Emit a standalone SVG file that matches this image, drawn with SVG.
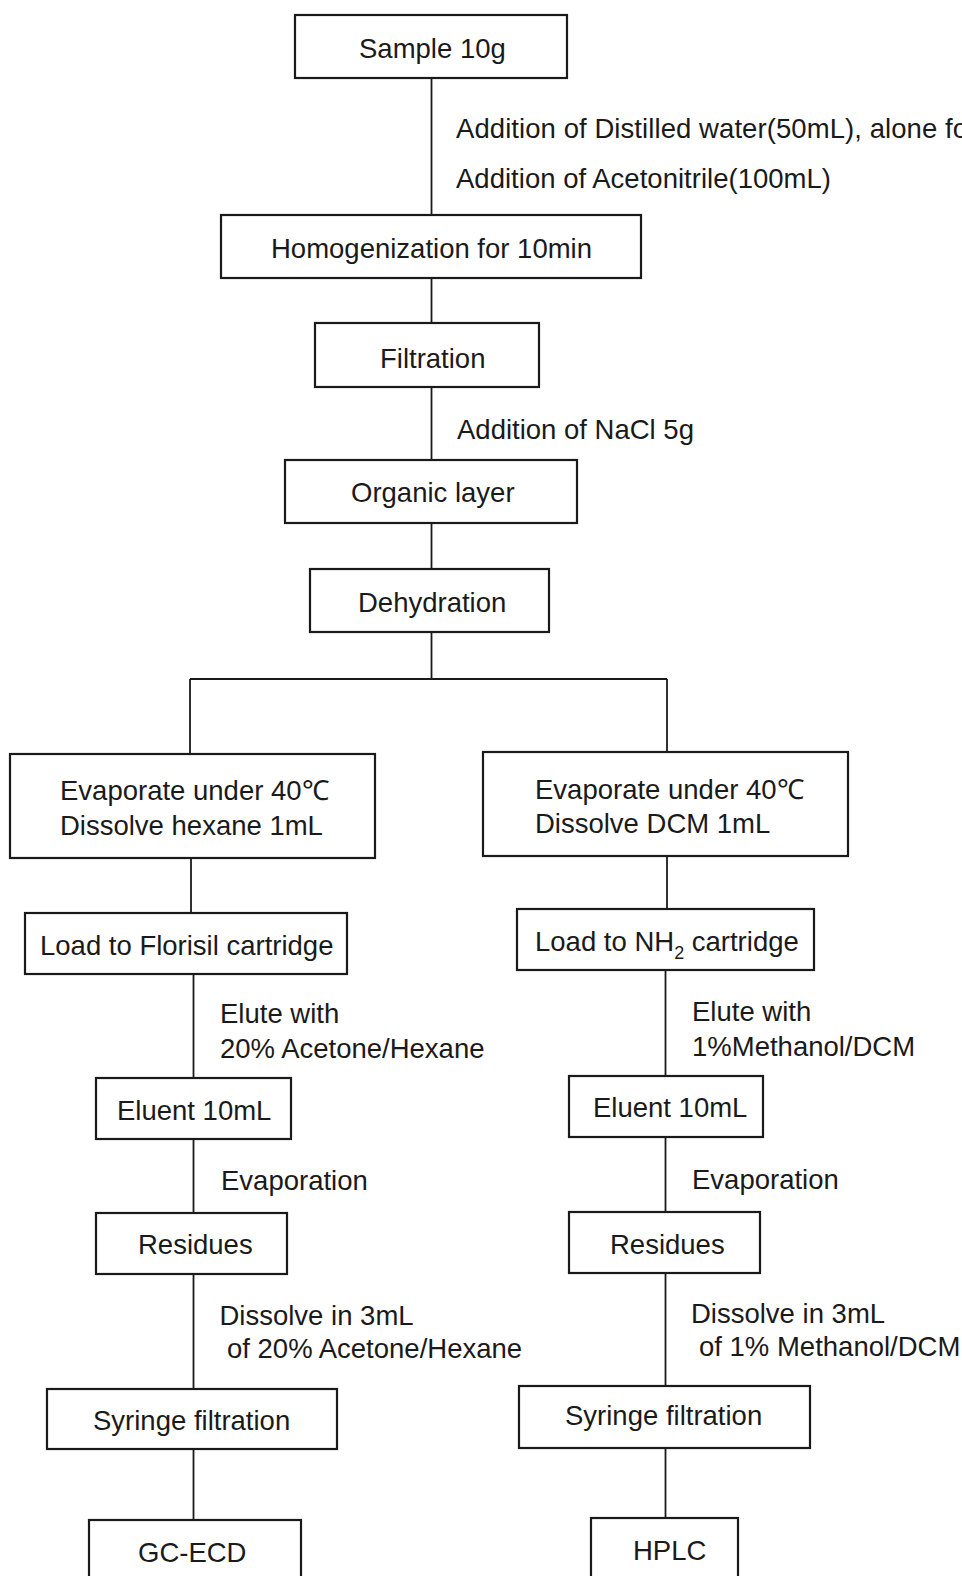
<svg xmlns="http://www.w3.org/2000/svg" width="962" height="1576" viewBox="0 0 962 1576">
<style>
.box{fill:#fff;stroke:#1a1a1a;stroke-width:2.2}
.ln{fill:none;stroke:#1a1a1a;stroke-width:1.8}
text{font-family:"Liberation Sans",Arial,sans-serif;font-size:27.5px;fill:#1a1a1a}
</style>
<rect width="962" height="1576" fill="#fff"/>
<g id="connectors">
<path class="ln" d="M431.5 78V215"/>
<path class="ln" d="M431.5 278V323"/>
<path class="ln" d="M431.5 387V460"/>
<path class="ln" d="M431.5 523V569"/>
<path class="ln" d="M431.5 632V679"/>
<path class="ln" d="M190 679H667"/>
<path class="ln" d="M190 679V754"/>
<path class="ln" d="M667 679V752"/>
<path class="ln" d="M191 858V913"/>
<path class="ln" d="M667 856V909"/>
<path class="ln" d="M193.5 974V1078"/>
<path class="ln" d="M665.5 970V1076"/>
<path class="ln" d="M193.5 1139V1213"/>
<path class="ln" d="M665.5 1137V1212"/>
<path class="ln" d="M193.5 1274V1389"/>
<path class="ln" d="M665.5 1273V1386"/>
<path class="ln" d="M193.5 1449V1520"/>
<path class="ln" d="M665.5 1448V1518"/>
<text x="456" y="138" textLength="512" lengthAdjust="spacing">Addition of Distilled water(50mL), alone fo</text>
<text x="456" y="188" textLength="375" lengthAdjust="spacing">Addition of Acetonitrile(100mL)</text>
<text x="457" y="439">Addition of NaCl 5g</text>
<text x="220" y="1023">Elute with</text>
<text x="220" y="1058">20% Acetone/Hexane</text>
<text x="692" y="1021">Elute with</text>
<text x="692" y="1056">1%Methanol/DCM</text>
<text x="221" y="1190">Evaporation</text>
<text x="692" y="1189">Evaporation</text>
<text x="219.5" y="1325">Dissolve in 3mL</text>
<text x="227" y="1358">of 20% Acetone/Hexane</text>
<text x="691" y="1323">Dissolve in 3mL</text>
<text x="699" y="1356">of 1% Methanol/DCM</text>
</g>
<g id="sample"><rect class="box" x="295" y="15" width="272" height="63"/><text x="359" y="58">Sample 10g</text></g>
<g id="homogenization"><rect class="box" x="221" y="215" width="420" height="63"/><text x="271" y="258">Homogenization for 10min</text></g>
<g id="filtration"><rect class="box" x="315" y="323" width="224" height="64"/><text x="380" y="368">Filtration</text></g>
<g id="organic"><rect class="box" x="285" y="460" width="292" height="63"/><text x="351" y="502">Organic layer</text></g>
<g id="dehydration"><rect class="box" x="310" y="569" width="239" height="63"/><text x="358" y="612">Dehydration</text></g>
<g id="evap-left"><rect class="box" x="10" y="754" width="365" height="104"/><text x="60" y="800">Evaporate under 40℃</text><text x="60" y="835">Dissolve hexane 1mL</text></g>
<g id="evap-right"><rect class="box" x="483" y="752" width="365" height="104"/><text x="535" y="799">Evaporate under 40℃</text><text x="535" y="833">Dissolve DCM 1mL</text></g>
<g id="florisil"><rect class="box" x="25" y="913" width="322" height="61"/><text x="40" y="955">Load to Florisil cartridge</text></g>
<g id="nh2"><rect class="box" x="517" y="909" width="297" height="61"/><text x="535" y="951">Load to NH<tspan font-size="18" dy="8">2</tspan><tspan dy="-8"> cartridge</tspan></text></g>
<g id="eluent-left"><rect class="box" x="96" y="1078" width="195" height="61"/><text x="117" y="1120">Eluent 10mL</text></g>
<g id="eluent-right"><rect class="box" x="569" y="1076" width="194" height="61"/><text x="593" y="1117">Eluent 10mL</text></g>
<g id="residues-left"><rect class="box" x="96" y="1213" width="191" height="61"/><text x="138" y="1254">Residues</text></g>
<g id="residues-right"><rect class="box" x="569" y="1212" width="191" height="61"/><text x="610" y="1254">Residues</text></g>
<g id="syringe-left"><rect class="box" x="47" y="1389" width="290" height="60"/><text x="93" y="1430">Syringe filtration</text></g>
<g id="syringe-right"><rect class="box" x="519" y="1386" width="291" height="62"/><text x="565" y="1425">Syringe filtration</text></g>
<g id="gc-ecd"><rect class="box" x="89" y="1520" width="212" height="70"/><text x="138" y="1562">GC-ECD</text></g>
<g id="hplc"><rect class="box" x="591" y="1518" width="147" height="72"/><text x="633" y="1560">HPLC</text></g>
</svg>
